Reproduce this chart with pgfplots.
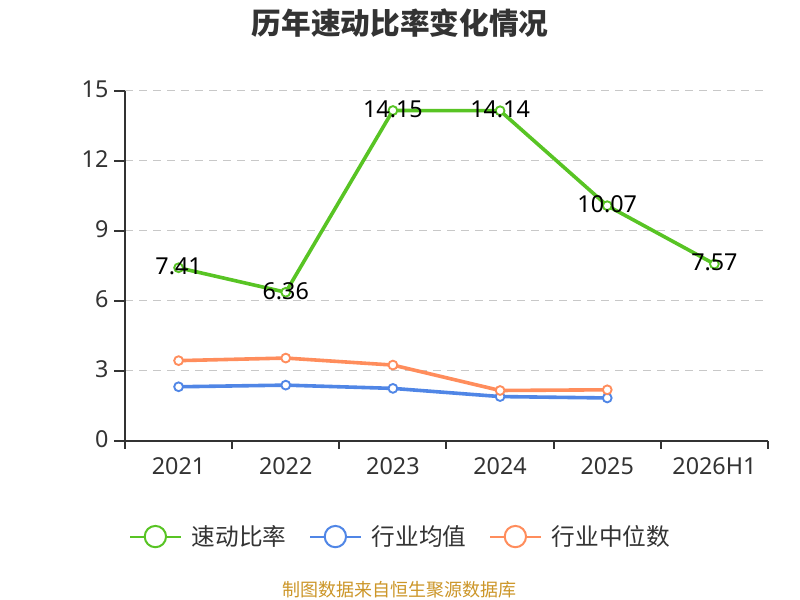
\documentclass[border=0pt]{standalone}
\usepackage{pgfplots}
\pgfplotsset{compat=1.18}
\usepackage{fontspec}
\setmainfont{Noto Sans}
\newfontfamily\cjk{Noto Sans CJK SC}
\definecolor{cgreen}{RGB}{88,196,36}
\definecolor{cblue}{RGB}{80,134,230}
\definecolor{corange}{RGB}{255,141,92}
\definecolor{ctext}{RGB}{51,51,51}
\definecolor{cgrid}{RGB}{200,200,200}
\definecolor{csrc}{RGB}{204,150,40}
\begin{document}
\begin{tikzpicture}
\fill[white] (0,0) rectangle (600pt,450pt);
\path[use as bounding box] (0,0) rectangle (600pt,450pt);
\node[text=ctext, font=\cjk\bfseries\fontsize{22.25pt}{24pt}\selectfont] at (300pt,432.4pt) {历年速动比率变化情况};
\node[text=csrc, font=\cjk\fontsize{13.5pt}{16pt}\selectfont] at (299.25pt,7.5pt) {制图数据来自恒生聚源数据库};
\begin{axis}[
  at={(93.75pt,119.5pt)}, anchor=south west,
  scale only axis, width=482.25pt, height=262.5pt,
  clip=false,
  xmin=-0.5, xmax=5.5, ymin=0, ymax=15,
  axis x line*=bottom, axis y line*=left,
  axis line style={ctext, line width=1.5pt, -},
  xtick={0,...,5},
  xticklabels={2021,2022,2023,2024,2025,2026H1},
  minor xtick={-0.5,0.5,1.5,2.5,3.5,4.5,5.5},
  ytick={0,3,6,9,12,15},
  tick align=outside,
  major tick length=8.25pt,
  minor tick length=6pt,
  x tick style={draw=none},
  minor x tick style={draw=ctext, line width=1.5pt},
  y tick style={draw=ctext, line width=1.5pt},
  ymajorgrids,
  major grid style={cgrid, line width=1.1pt, dash pattern=on 6pt off 4.5pt},
  tick label style={text=ctext, font=\fontsize{17.5pt}{20pt}\selectfont},
  xticklabel style={inner sep=0pt, yshift=-4.5pt},
  yticklabel style={inner sep=0pt, xshift=-4pt, yshift=1pt},
  /pgf/number format/assume math mode=true,
  legend columns=3,
  legend style={draw=none, fill=none, at={(0.427,-0.274)}, anchor=center,
    font=\cjk\fontsize{17.75pt}{20pt}\selectfont, text=ctext,
    nodes={inner sep=0pt},
    /tikz/every odd column/.append style={column sep=7.5pt},
    /tikz/every even column/.append style={column sep=17pt}},
  legend image code/.code={
    \draw[#1, line width=1.5pt] (0pt,0pt) -- (38pt,0pt);
    \draw[#1, line width=1.5pt, fill=white] (19pt,0pt) circle (8pt);
  },
  every axis plot/.append style={line width=2.7pt, mark=*, mark size=3.3pt,
    mark options={fill=white, line width=1.4pt}},
]
\addplot[cgreen,
  nodes near coords,
  every node near coord/.append style={anchor=center, text=black,
    font=\fontsize{17.5pt}{20pt}\selectfont, yshift=1pt,
    /pgf/number format/fixed, /pgf/number format/precision=2,
    /pgf/number format/fixed zerofill, /pgf/number format/assume math mode=true},
  ] coordinates {(0,7.41) (1,6.36) (2,14.15) (3,14.14) (4,10.07) (5,7.57)};
\addlegendentry{速动比率}
\addplot[cblue] coordinates {(0,2.31) (1,2.38) (2,2.24) (3,1.89) (4,1.83)};
\addlegendentry{行业均值}
\addplot[corange] coordinates {(0,3.43) (1,3.54) (2,3.24) (3,2.15) (4,2.18)};
\addlegendentry{行业中位数}
\end{axis}
\end{tikzpicture}
\end{document}
